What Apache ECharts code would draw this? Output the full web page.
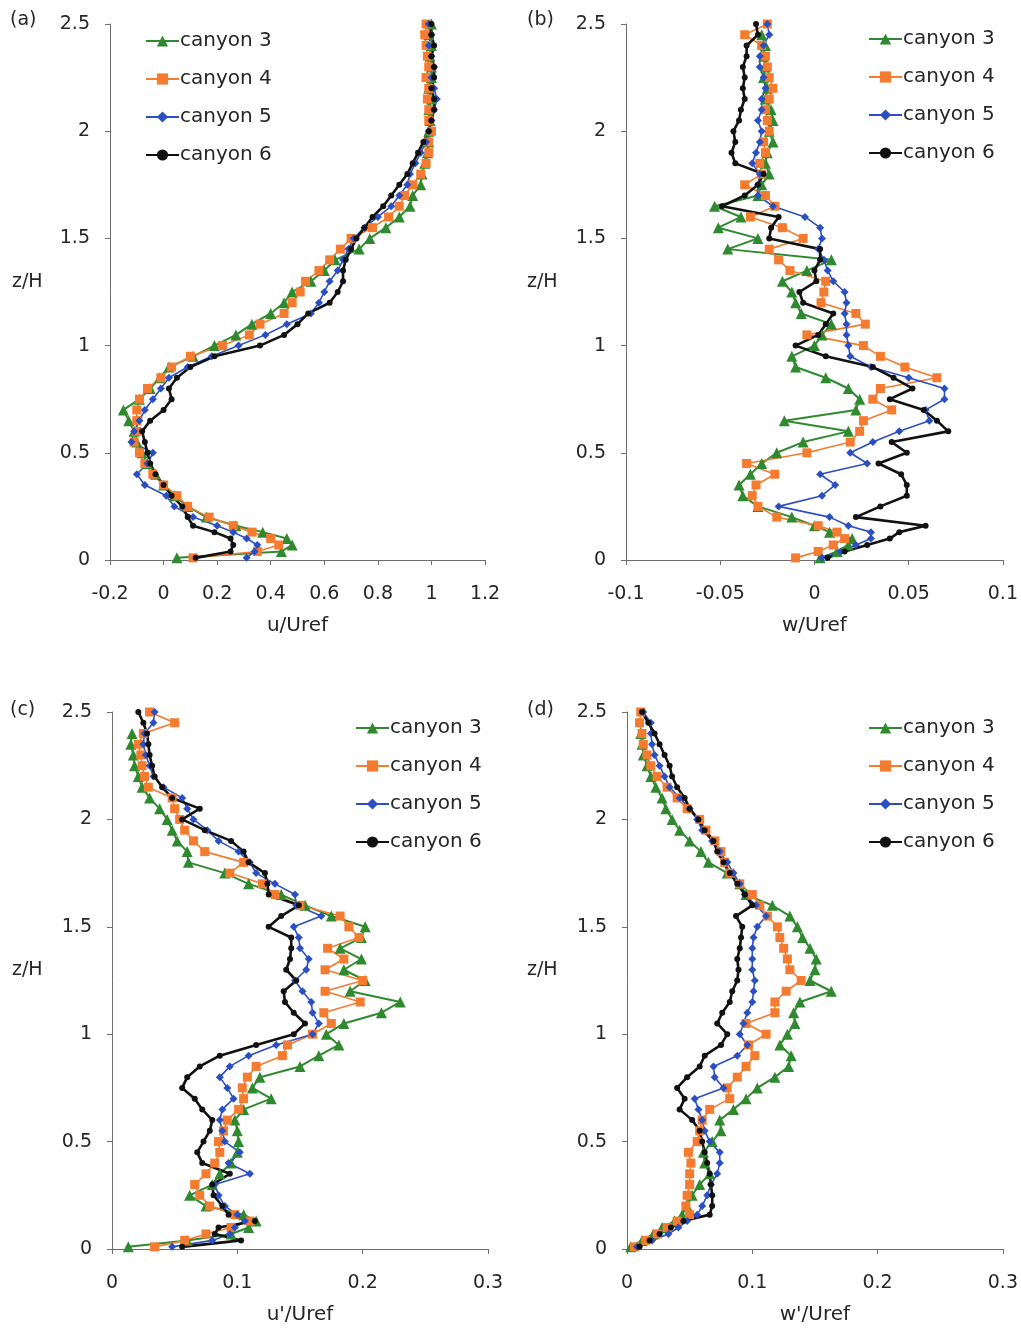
<!DOCTYPE html>
<html>
<head>
<meta charset="utf-8">
<title>Canyon profiles</title>
<script src="https://cdn.jsdelivr.net/npm/echarts@6.0.0/dist/echarts.min.js"></script>
<style>
  html, body { margin: 0; padding: 0; background: #ffffff; }
  #chart { width: 1021px; height: 1329px; }
</style>
</head>
<body>
<div id="chart"></div>
<script>
// Measurement heights z/H shared by every profile
const zLevels = [0.01,0.04,0.07,0.10,0.13,0.16,0.20,0.25,0.30,0.35,0.40,0.45,0.50,0.55,0.60,0.65,0.70,0.75,0.80,0.85,0.90,0.95,1.00,1.05,1.10,1.15,1.20,1.25,1.30,1.35,1.40,1.45,1.50,1.55,1.60,1.65,1.70,1.75,1.80,1.85,1.90,1.95,2.00,2.05,2.10,2.15,2.20,2.25,2.30,2.35,2.40,2.45,2.50];

const canyonNames = ['canyon 3', 'canyon 4', 'canyon 5', 'canyon 6'];

// (a) mean streamwise velocity u/Uref
const uCanyon3 = [0.05,0.44,0.48,0.46,0.37,0.27,0.16,0.09,0.04,0.00,-0.03,-0.06,-0.08,-0.10,-0.11,-0.13,-0.15,-0.09,-0.05,-0.015,0.02,0.11,0.19,0.27,0.33,0.40,0.45,0.48,0.55,0.60,0.64,0.73,0.77,0.83,0.88,0.92,0.93,0.96,0.965,0.975,0.985,0.99,0.99,0.995,0.99,1.00,0.99,1.00,1.00,0.995,1.00,0.99,1.00];
const uCanyon4 = [0.11,0.35,0.43,0.40,0.33,0.26,0.17,0.09,0.05,0.00,-0.04,-0.07,-0.09,-0.11,-0.10,-0.10,-0.10,-0.09,-0.06,-0.01,0.03,0.10,0.22,0.32,0.36,0.45,0.48,0.51,0.53,0.58,0.62,0.66,0.70,0.78,0.84,0.88,0.90,0.93,0.96,0.98,0.99,0.99,1.00,0.99,0.99,0.985,0.99,0.98,0.99,0.985,0.98,0.975,0.98];
const uCanyon5 = [0.31,0.34,0.35,0.31,0.26,0.20,0.11,0.04,0.01,-0.07,-0.10,-0.06,-0.04,-0.12,-0.11,-0.09,-0.07,-0.04,-0.01,0.02,0.09,0.18,0.28,0.38,0.46,0.55,0.58,0.60,0.62,0.65,0.67,0.69,0.71,0.75,0.80,0.85,0.88,0.91,0.92,0.94,0.96,0.98,0.99,1.00,1.01,1.02,1.01,1.00,1.01,1.00,0.99,1.00,0.99];
const uCanyon6 = [0.12,0.25,0.26,0.25,0.19,0.11,0.09,0.07,0.03,0.00,-0.03,-0.05,-0.06,-0.07,-0.08,-0.05,0.00,0.03,0.02,0.05,0.10,0.19,0.36,0.45,0.50,0.54,0.62,0.65,0.67,0.67,0.68,0.70,0.72,0.75,0.78,0.82,0.85,0.88,0.91,0.93,0.95,0.97,0.99,1.00,1.01,1.01,1.00,1.01,1.01,1.00,1.01,1.00,1.00];

// (b) mean vertical velocity w/Uref
const wCanyon3 = [0.003,0.012,0.018,0.020,0.008,0.000,-0.012,-0.030,-0.038,-0.040,-0.034,-0.028,-0.020,-0.006,0.018,-0.016,0.022,0.024,0.018,0.006,-0.010,-0.012,0.000,0.004,0.009,-0.007,-0.010,-0.012,-0.017,-0.004,0.009,-0.046,-0.030,-0.051,-0.039,-0.053,-0.030,-0.028,-0.024,-0.026,-0.025,-0.022,-0.024,-0.022,-0.023,-0.026,-0.025,-0.027,-0.026,-0.027,-0.026,-0.028,null];
const wCanyon4 = [-0.010,0.002,0.010,0.016,0.012,0.002,-0.020,-0.030,-0.033,-0.031,-0.021,-0.036,-0.004,0.019,0.024,0.026,0.041,0.031,0.035,0.065,0.048,0.035,0.026,-0.004,0.027,0.022,0.0035,0.005,0.006,-0.013,-0.019,-0.024,-0.006,-0.017,-0.034,-0.021,-0.026,-0.037,-0.028,-0.029,-0.026,-0.027,-0.024,-0.025,-0.026,-0.024,-0.022,-0.024,-0.025,-0.026,-0.028,-0.037,-0.025];
const wCanyon5 = [0.004,0.014,0.022,0.030,0.030,0.018,0.008,-0.019,0.004,0.011,0.003,0.028,0.019,0.031,0.045,0.061,0.059,0.069,0.069,0.050,0.030,0.019,0.018,0.017,0.017,0.016,0.017,0.016,0.010,0.007,0.005,0.002,0.004,0.003,-0.005,-0.022,-0.030,-0.030,-0.029,-0.033,-0.031,-0.029,-0.028,-0.030,-0.028,-0.028,-0.026,-0.027,-0.029,-0.029,-0.027,-0.024,-0.025];
const wCanyon6 = [0.007,0.016,0.028,0.040,0.045,0.059,0.022,0.035,0.049,0.049,0.046,0.034,0.049,0.041,0.071,0.065,0.058,0.040,0.052,0.042,0.031,0.006,-0.010,0.002,0.006,0.010,-0.006,-0.008,0.001,0.000,0.003,0.003,-0.024,-0.023,-0.019,-0.049,-0.037,-0.030,-0.027,-0.042,-0.044,-0.042,-0.043,-0.040,-0.039,-0.037,-0.038,-0.037,-0.038,-0.036,-0.036,-0.030,-0.031];

// (c) streamwise turbulence intensity u'/Uref
const uPrimeCanyon3 = [0.013,0.060,0.095,0.109,0.115,0.105,0.075,0.062,0.080,0.086,0.095,0.100,0.101,0.100,0.098,0.105,0.127,0.112,0.118,0.150,0.165,0.181,0.171,0.185,0.215,0.230,0.190,0.202,0.185,0.199,0.182,0.199,0.202,0.175,0.154,0.135,0.109,0.090,0.061,0.060,0.052,0.048,0.044,0.038,0.030,0.024,0.021,0.018,0.017,0.015,0.016,null,null];
const uPrimeCanyon4 = [0.034,0.058,0.075,0.095,0.110,0.098,0.078,0.070,0.066,0.075,0.082,0.086,0.085,0.089,0.092,0.101,0.105,0.104,0.108,0.115,0.136,0.140,0.160,0.175,0.169,0.198,0.170,0.200,0.170,0.185,0.172,0.197,0.189,0.182,0.150,0.130,0.120,0.094,0.105,0.074,0.065,0.058,0.054,0.050,0.048,0.029,0.026,0.024,0.023,0.021,0.025,0.050,0.030];
const uPrimeCanyon5 = [0.048,0.080,0.094,0.098,0.106,0.100,0.090,0.085,0.082,0.110,0.093,0.102,0.090,0.088,0.086,0.088,0.097,0.092,0.086,0.094,0.109,0.131,0.160,0.165,0.160,0.159,0.152,0.146,0.155,0.157,0.150,0.149,0.145,0.167,0.147,0.146,0.130,0.115,0.110,0.101,0.085,0.076,0.065,0.060,0.056,0.041,0.033,0.030,0.027,0.025,0.026,0.033,0.034];
const uPrimeCanyon6 = [0.056,0.103,0.082,0.085,0.114,0.093,0.088,0.081,0.080,0.094,0.072,0.068,0.073,0.078,0.080,0.072,0.066,0.056,0.060,0.070,0.086,0.115,0.145,0.154,0.145,0.138,0.137,0.147,0.139,0.142,0.143,0.143,0.125,0.135,0.149,0.125,0.124,0.122,0.109,0.105,0.095,0.074,0.056,0.070,0.048,0.040,0.034,0.032,0.030,0.029,0.028,0.025,0.021];

// (d) vertical turbulence intensity w'/Uref
const wPrimeCanyon3 = [0.003,0.012,0.021,0.028,0.038,0.044,0.048,0.052,0.058,0.066,0.062,0.061,0.068,0.075,0.074,0.085,0.095,0.104,0.118,0.129,0.131,0.122,0.128,0.134,0.133,0.138,0.163,0.146,0.150,0.151,0.146,0.140,0.136,0.130,0.116,0.095,0.090,0.080,0.065,0.059,0.050,0.042,0.036,0.031,0.028,0.023,0.019,0.016,0.013,0.012,0.011,null,null];
const wPrimeCanyon4 = [0.006,0.015,0.024,0.032,0.040,0.050,0.047,0.048,0.050,0.050,0.051,0.049,0.056,0.058,0.060,0.066,0.082,0.080,0.088,0.095,0.102,0.097,0.111,0.095,0.118,0.118,0.127,0.139,0.130,0.128,0.125,0.122,0.120,0.112,0.106,0.100,0.090,0.082,0.078,0.075,0.070,0.063,0.058,0.048,0.040,0.032,0.024,0.019,0.016,0.013,0.012,0.010,0.011];
const wPrimeCanyon5 = [0.008,0.020,0.033,0.041,0.048,0.056,0.060,0.064,0.067,0.072,0.074,0.074,0.066,0.062,0.060,0.057,0.054,0.077,0.070,0.069,0.088,0.096,0.090,0.093,0.096,0.100,0.101,0.102,0.100,0.100,0.100,0.101,0.104,0.111,0.103,0.094,0.090,0.085,0.080,0.074,0.068,0.060,0.056,0.050,0.042,0.034,0.030,0.026,0.022,0.020,0.019,0.019,0.013];
const wPrimeCanyon6 = [0.010,0.018,0.026,0.035,0.045,0.066,0.068,0.068,0.067,0.066,0.064,0.062,0.060,0.058,0.052,0.042,0.046,0.040,0.048,0.058,0.062,0.075,0.080,0.072,0.076,0.082,0.084,0.088,0.089,0.088,0.090,0.091,0.092,0.087,0.100,0.094,0.088,0.082,0.077,0.072,0.069,0.062,0.057,0.050,0.046,0.040,0.036,0.034,0.030,0.026,0.022,0.017,0.012];

const FONT = 'DejaVu Sans';
const TEXT = '#262626';
const AXIS = '#6e6e6e';

const canyonStyles = [
  { color: '#2f8a2f', symbol: 'triangle', symbolSize: 11, width: 2 },
  { color: '#f47b30', symbol: 'rect', symbolSize: 9, width: 1.6 },
  { color: '#2b4fc2', symbol: 'diamond', symbolSize: 8, width: 1.6 },
  { color: '#111111', symbol: 'circle', symbolSize: 6, width: 2.6 }
];

const panels = [
  { tag: '(a)', grid: { left: 110, top: 24, width: 375, height: 536 },
    xMin: -0.2, xMax: 1.2, xStep: 0.2, xName: 'u/Uref',
    profiles: [uCanyon3, uCanyon4, uCanyon5, uCanyon6],
    legendPos: { left: 140, top: 26 }, tagPos: [10, 11], zhPos: [12, 273] },
  { tag: '(b)', grid: { left: 626, top: 24, width: 377, height: 536 },
    xMin: -0.1, xMax: 0.1, xStep: 0.05, xName: 'w/Uref',
    profiles: [wCanyon3, wCanyon4, wCanyon5, wCanyon6],
    legendPos: { left: 863, top: 24 }, tagPos: [527, 11], zhPos: [527, 273] },
  { tag: '(c)', grid: { left: 112, top: 712, width: 376, height: 537 },
    xMin: 0, xMax: 0.3, xStep: 0.1, xName: "u'/Uref",
    profiles: [uPrimeCanyon3, uPrimeCanyon4, uPrimeCanyon5, uPrimeCanyon6],
    legendPos: { left: 350, top: 713 }, tagPos: [10, 701], zhPos: [12, 961] },
  { tag: '(d)', grid: { left: 627, top: 712, width: 376, height: 537 },
    xMin: 0, xMax: 0.3, xStep: 0.1, xName: "w'/Uref",
    profiles: [wPrimeCanyon3, wPrimeCanyon4, wPrimeCanyon5, wPrimeCanyon6],
    legendPos: { left: 863, top: 713 }, tagPos: [527, 701], zhPos: [527, 961] }
];

function toPoints(values) {
  const pts = [];
  values.forEach((v, i) => { if (v !== null) pts.push([v, zLevels[i]]); });
  return pts;
}

const grids = [], xAxes = [], yAxes = [], legends = [], series = [], graphics = [];

panels.forEach((p, pi) => {
  grids.push(Object.assign({ containLabel: false }, p.grid));
  xAxes.push({
    type: 'value', gridIndex: pi, min: p.xMin, max: p.xMax, interval: p.xStep,
    name: p.xName, nameLocation: 'middle', nameGap: 56,
    nameTextStyle: { fontFamily: FONT, fontSize: 20, color: TEXT },
    axisLine: { show: true, onZero: false, lineStyle: { color: AXIS, width: 1 } },
    axisTick: { show: true, inside: false, length: 5, lineStyle: { color: AXIS } },
    axisLabel: { fontFamily: FONT, fontSize: 19, color: TEXT, margin: 25 },
    splitLine: { show: false }
  });
  yAxes.push({
    type: 'value', gridIndex: pi, min: 0, max: 2.5, interval: 0.5,
    axisLine: { show: true, onZero: false, lineStyle: { color: AXIS, width: 1 } },
    axisTick: { show: true, inside: false, length: 5, lineStyle: { color: AXIS } },
    axisLabel: { fontFamily: FONT, fontSize: 19, color: TEXT, margin: 20 },
    splitLine: { show: false }
  });
  legends.push({
    data: canyonNames, orient: 'vertical', left: p.legendPos.left, top: p.legendPos.top,
    itemWidth: 33, itemHeight: 14, itemGap: 18, selectedMode: false,
    textStyle: { fontFamily: FONT, fontSize: 20, color: TEXT, padding: [0, 0, 0, -4] }
  });
  p.profiles.forEach((vals, ci) => {
    const s = canyonStyles[ci];
    series.push({
      type: 'line', name: canyonNames[ci], xAxisIndex: pi, yAxisIndex: pi,
      data: toPoints(vals), symbol: s.symbol, symbolSize: s.symbolSize,
      showSymbol: true, clip: false,
      lineStyle: { color: s.color, width: s.width },
      itemStyle: { color: s.color },
      emphasis: { disabled: true }
    });
  });
  graphics.push({ type: 'text', left: p.tagPos[0], top: p.tagPos[1],
    style: { text: p.tag, fontFamily: FONT, fontSize: 19, fill: TEXT } });
  graphics.push({ type: 'text', left: p.zhPos[0], top: p.zhPos[1],
    style: { text: 'z/H', fontFamily: FONT, fontSize: 19, fill: TEXT } });
});

const chart = echarts.init(document.getElementById('chart'), null, { renderer: 'canvas' });
chart.setOption({
  backgroundColor: '#ffffff',
  animation: false,
  grid: grids,
  xAxis: xAxes,
  yAxis: yAxes,
  legend: legends,
  series: series,
  graphic: graphics
});
</script>
</body>
</html>
